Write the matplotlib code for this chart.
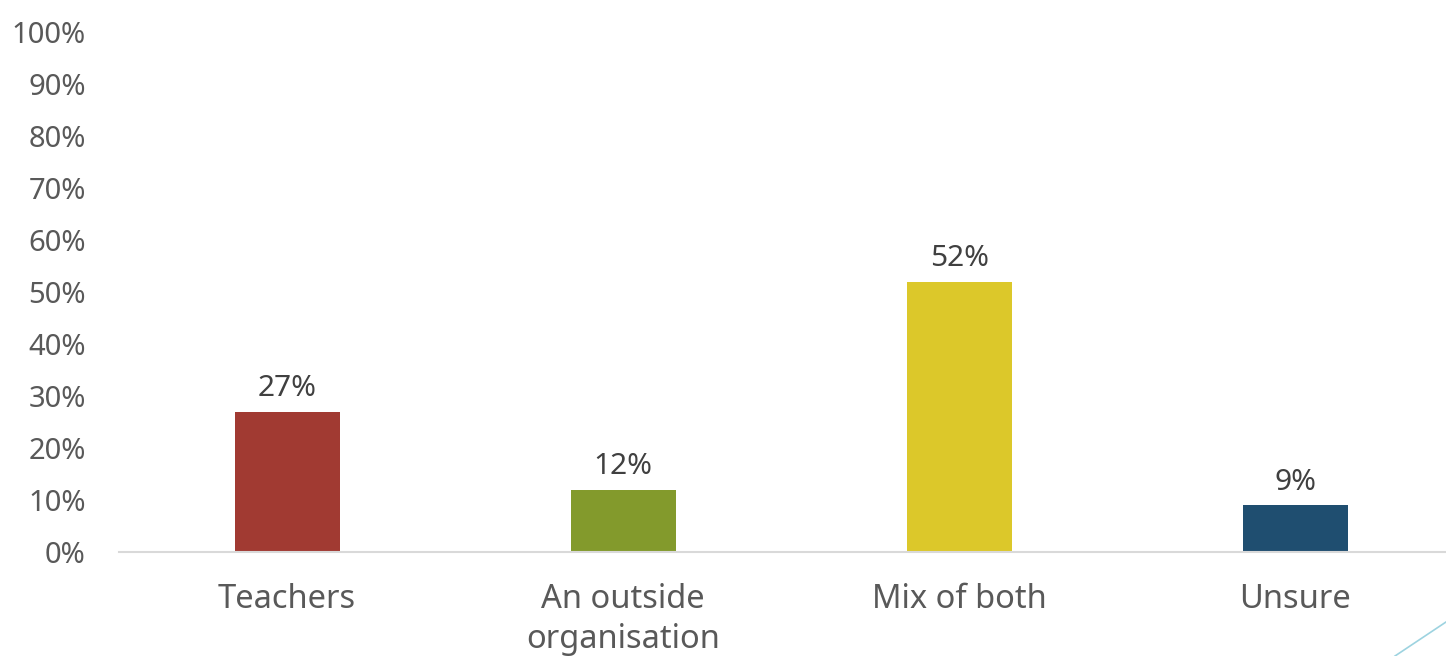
#Imports
import numpy as np
import matplotlib
matplotlib.use('Agg')
import matplotlib.pyplot as plt
from matplotlib.ticker import PercentFormatter

#Chart data
categories=['Teachers','An outside\norganisation','Mix of both','Unsure']
values=[0.27,0.12,0.52,0.09]
bar_colors=['#A13A32','#839A2C','#DCC82A','#1F4E70']
y_ticks=np.arange(0,1.01,0.1)

plt.rcParams['font.family']=['Noto Sans','DejaVu Sans']

fig=plt.figure(figsize=(14.46,6.56),dpi=100)
ax=fig.add_axes([119/1446,104/656,(1446-119)/1446,520/656])

x=np.arange(len(categories))
bars=ax.bar(x,values,width=0.3125,color=bar_colors)

#Data labels above each bar
for xi,v in zip(x,values):
  ax.annotate('{:.0f}%'.format(v*100),(xi,v),xytext=(0,6),textcoords='offset points',
              ha='center',va='bottom',fontsize=21.5,color='#404040')

ax.set_xlim(-0.5,3.449)
ax.set_ylim(0,1)
ax.set_yticks(y_ticks)
ax.yaxis.set_major_formatter(PercentFormatter(1.0,decimals=0))
ax.set_xticks(x)
ax.set_xticklabels(categories,linespacing=1.3)
ax.tick_params(axis='y',length=0,labelsize=21,labelcolor='#595959',pad=24)
ax.tick_params(axis='x',length=0,labelsize=23.5,labelcolor='#595959',pad=22)
for s in ['top','right','left']:
  ax.spines[s].set_visible(False)
ax.spines['bottom'].set_color('#D9D9D9')
ax.spines['bottom'].set_linewidth(1.5)

#Slide decoration in the bottom right corner
fig.add_artist(plt.Line2D([1395/1446,1446/1446],[0,34/656],color='#9DD3E0',lw=1.2,transform=fig.transFigure))

fig.savefig('out.png',dpi=100)
